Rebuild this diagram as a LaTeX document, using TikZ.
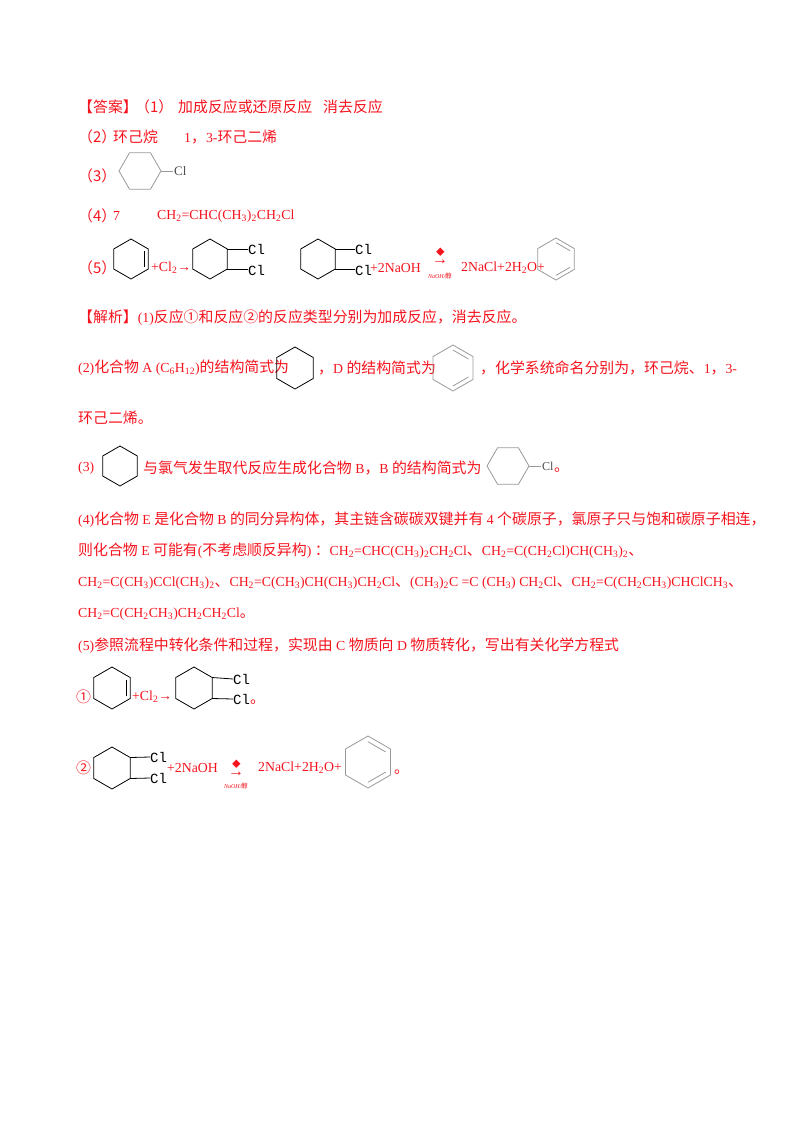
\documentclass[tikz,border=0pt]{standalone}
\usepackage{fontspec}
\usetikzlibrary{calc}
\setmainfont{Liberation Serif}
\newfontfamily\cjk[Scale=1.08]{Noto Sans CJK SC}
\newfontfamily\latinf{Liberation Serif}
\newfontfamily\monof{Liberation Mono}
\newcommand\zh[1]{{\cjk #1}}
\newcommand\dn[1]{\textsubscript{#1}}
\definecolor{ans}{RGB}{245,20,30}
\newcommand\ring[5]{% cx cy r rot style
  \coordinate (c) at (#1,#2);
  \foreach \k in {0,...,5}{\coordinate (v\k) at ($(c)+(#4+60*\k:#3)$);}
  \draw[#5] (v0)--(v1)--(v2)--(v3)--(v4)--(v5)--cycle;}
\newcommand\dbl[3]{\draw[#3] ($(c)!0.78!(v#1)$)--($(c)!0.78!(v#2)$);}
\begin{document}
\begin{tikzpicture}[x=1pt,y=-1pt,
  t/.style={anchor=west,inner sep=0pt,text=ans,font=\fontsize{13.8}{15}\selectfont},
  sm/.style={anchor=center,inner sep=0pt,text=ans,font=\fontsize{6}{7}\selectfont\itshape},
  blk/.style={black,line width=0.8pt},
  gry/.style={gray!80,line width=0.8pt},
  cl/.style={anchor=west,inner sep=0pt,font=\monof\fontsize{14}{15}\selectfont}]
\useasboundingbox (0,0) rectangle (800,1132);
% answers
\node[t] (a1) at (78,107) {\zh{【答案】}};
\node[t] (a1b) at (135,107) {\zh{（1）}};
\node[t] (a1c) at (178,107) {\zh{加成反应或还原反应}};
\node[t] (a1d) at (323,107) {\zh{消去反应}};
\node[t] (a2) at (78,137) {\zh{（2）}};
\node[t] (a2b) at (113,137) {\zh{环己烷}};
\node[t] (a2c) at (184,137) {1\zh{，}3-\zh{环己二烯}};
\node[t] (a3) at (78,176) {\zh{（3）}};
\ring{140}{171}{21}{0}{gry}
\draw[gry] (v0)--(173,171);
\node[cl,font=\latinf\fontsize{13}{14}\selectfont,text=black!70] (a3cl) at (174,171) {Cl};
\node[t] (a4) at (78,216) {\zh{（4）}};
\node[t] (a4b) at (113,216) {7};
\node[t] (a4c) at (157,216) {CH\dn{2}=CHC(CH\dn{3})\dn{2}CH\dn{2}Cl};
\node[t] (a5) at (78,268) {\zh{（5）}};
\ring{131}{259}{20}{30}{blk}
\dbl{5}{0}{blk}
\node[t] (a5p) at (151,268) {+Cl\dn{2}→};
\ring{210}{259}{20}{30}{blk}
\draw[blk] (v5)--(248,249) (v0)--(248,269);
\node[cl] (c1) at (248,249) {Cl};
\node[cl] (c2) at (248,270) {Cl};
\ring{318}{259}{20}{30}{blk}
\draw[blk] (v5)--(355,249) (v0)--(355,269);
\node[cl] (c3) at (355,249) {Cl};
\node[cl] (c4) at (355,270) {Cl};
\node[t] (a5n) at (370,268) {+2NaOH};
\node[t,font=\fontsize{8}{9}\selectfont] (dot1) at (436,252) {\zh{◆}};
\node[t,anchor=center,font=\fontsize{16}{16}\selectfont] (ar1) at (440,262) {→};
\node[sm] (s1) at (440,276) {NaOH/\zh{醇}};
\node[t] (a5r) at (461,268) {2NaCl+2H\dn{2}O+};
\ring{556}{259}{21}{30}{gry}
\dbl{4}{5}{gry}\dbl{0}{1}{gry}
% analysis
\node[t] (j1) at (78,318) {\zh{【解析】}(1)\zh{反应①和反应②的反应类型分别为加成反应，消去反应。}};
\node[t] (j2) at (78,368) {(2)\zh{化合物} A (C\dn{6}H\dn{12})\zh{的结构简式为}};
\ring{295}{368}{21}{30}{blk}
\node[t] (j2b) at (318,368) {\zh{，}D \zh{的结构简式为}};
\ring{453}{368}{23}{30}{gry}
\dbl{4}{5}{gry}\dbl{0}{1}{gry}
\node[t] (j2c) at (480,368) {\zh{，化学系统命名分别为，环己烷、}1\zh{，}3-};
\node[t] (j2d) at (78,418) {\zh{环己二烯。}};
\node[t] (j3) at (78,468) {(3)};
\ring{120}{466}{20}{30}{blk}
\node[t] (j3b) at (143,468) {\zh{与氯气发生取代反应生成化合物} B\zh{，}B \zh{的结构简式为}};
\ring{508}{466}{21}{0}{gry}
\draw[gry] (v0)--(541,466);
\node[cl,font=\latinf\fontsize{12}{13}\selectfont,text=black!70] (j3cl) at (542,466) {Cl};
\node[t] (j3c) at (554,470) {\zh{。}};
\node[t] (j4) at (78,520) {(4)\zh{化合物} E \zh{是化合物} B \zh{的同分异构体，其主链含碳碳双键并有} 4 \zh{个碳原子，氯原子只与饱和碳原子相连，}};
\node[t] (j4b) at (78,551) {\zh{则化合物} E \zh{可能有}(\zh{不考虑顺反异构}) \zh{：}CH\dn{2}=CHC(CH\dn{3})\dn{2}CH\dn{2}Cl\zh{、}CH\dn{2}=C(CH\dn{2}Cl)CH(CH\dn{3})\dn{2}\zh{、}};
\node[t] (j4c) at (78,583) {CH\dn{2}=C(CH\dn{3})CCl(CH\dn{3})\dn{2}\zh{、}CH\dn{2}=C(CH\dn{3})CH(CH\dn{3})CH\dn{2}Cl\zh{、}(CH\dn{3})\dn{2}C =C (CH\dn{3}) CH\dn{2}Cl\zh{、}CH\dn{2}=C(CH\dn{2}CH\dn{3})CHClCH\dn{3}\zh{、}};
\node[t] (j4d) at (78,614) {CH\dn{2}=C(CH\dn{2}CH\dn{3})CH\dn{2}CH\dn{2}Cl\zh{。}};
\node[t] (j5) at (78,646) {(5)\zh{参照流程中转化条件和过程，实现由} C \zh{物质向} D \zh{物质转化，写出有关化学方程式}};
\node[t] (e1) at (76,697) {\zh{①}};
\ring{112}{688}{21}{30}{blk}
\dbl{5}{0}{blk}
\node[t] (e1p) at (132,697) {+Cl\dn{2}→};
\ring{194}{688}{21}{30}{blk}
\draw[blk] (v5)--(233,679) (v0)--(233,699);
\node[cl] (e1c1) at (233,679) {Cl};
\node[cl] (e1c2) at (233,699) {Cl};
\node[t] (e1d) at (250,702) {\zh{。}};
\node[t] (e2) at (76,768) {\zh{②}};
\ring{112}{768}{21}{30}{blk}
\draw[blk] (v5)--(150,757) (v0)--(150,778);
\node[cl] (e2c1) at (150,757) {Cl};
\node[cl] (e2c2) at (150,778) {Cl};
\node[t] (e2n) at (167,768) {+2NaOH};
\node[t,font=\fontsize{8}{9}\selectfont] (dot2) at (232,764) {\zh{◆}};
\node[t,anchor=center,font=\fontsize{16}{16}\selectfont] (ar2) at (236,774) {→};
\node[sm] (s2) at (236,786) {NaOH/\zh{醇}};
\node[t] (e2r) at (258,768) {2NaCl+2H\dn{2}O+};
\ring{368}{762}{26}{30}{gry}
\dbl{4}{5}{gry}\dbl{0}{1}{gry}
\node[t] (e2d) at (394,772) {\zh{。}};
\end{tikzpicture}
\end{document}
